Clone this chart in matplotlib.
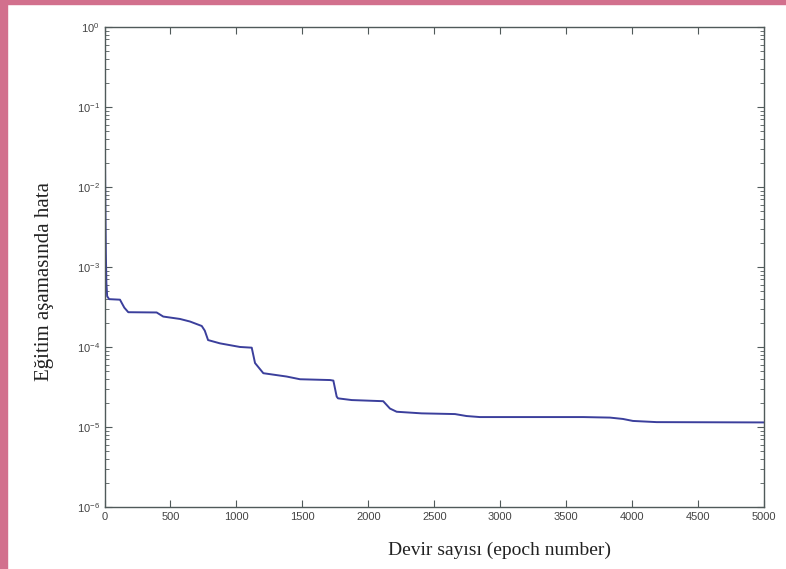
import numpy as np
import matplotlib.pyplot as plt
from matplotlib.patches import Rectangle

# training error vs epoch
epoch = [0, 6, 10, 14, 20, 35, 117, 150, 180, 395, 445, 572, 648, 737, 760, 785, 875,
         1027, 1116, 1141, 1204, 1381, 1482, 1710, 1735, 1760, 1770, 1874, 2113,
         2164, 2215, 2404, 2657, 2745, 2846, 3630, 3832, 3930, 4006, 4186, 5000]
err = [0.15, 6.3e-3, 1.5e-3, 6.3e-4, 4.3e-4, 3.96e-4, 3.9e-4, 3.1e-4, 2.72e-4,
       2.7e-4, 2.4e-4, 2.24e-4, 2.08e-4, 1.83e-4, 1.6e-4, 1.22e-4, 1.11e-4,
       1.0e-4, 9.8e-5, 6.3e-5, 4.7e-5, 4.27e-5, 3.95e-5, 3.86e-5, 3.8e-5,
       2.4e-5, 2.28e-5, 2.17e-5, 2.1e-5, 1.7e-5, 1.55e-5, 1.48e-5, 1.45e-5,
       1.37e-5, 1.33e-5, 1.33e-5, 1.31e-5, 1.26e-5, 1.19e-5, 1.15e-5, 1.14e-5]

xticks = np.arange(0, 5001, 500)

plt.rcParams['font.family'] = ['Liberation Sans', 'DejaVu Sans']
plt.rcParams['axes.unicode_minus'] = False
fig = plt.figure(figsize=(7.86, 5.69), dpi=100)
ax = fig.add_axes([0.133, 0.109, 0.839, 0.8436])

ax.plot(epoch, err, color='#3b3f9c', lw=1.4)
ax.set_yscale('log')
ax.set_xlim(0, 5000)
ax.set_ylim(1e-6, 1)
ax.set_xticks(xticks)
ax.set_yticks([10.0**k for k in range(-6, 1)])

for s in ax.spines.values():
    s.set_color('#505a5a')
    s.set_linewidth(1.0)
ax.tick_params(which='both', direction='in', top=True, right=True,
               colors='#505a5a', labelcolor='#444444', labelsize=8)
ax.tick_params(which='major', length=5)
ax.tick_params(which='minor', length=3)
ax.xaxis.set_minor_locator(plt.NullLocator())

fig.text(0.636, 0.033, 'Devir sayısı (epoch number)', family='Liberation Serif',
         fontsize=14, ha='center', va='center', color='#222222')
fig.text(0.057, 0.506, 'Eğitim aşamasında hata', family='Liberation Serif',
         fontsize=15, ha='center', va='center', rotation=90, color='#222222')

# frame strips on the left and top
fig.patches.append(Rectangle((0, 0), 7 / 786, 1, transform=fig.transFigure,
                             color='#d2708d', zorder=0))
fig.patches.append(Rectangle((0, 1 - 4 / 569), 1, 4 / 569, transform=fig.transFigure,
                             color='#d2708d', zorder=0))

fig.savefig('out.png', dpi=100)
